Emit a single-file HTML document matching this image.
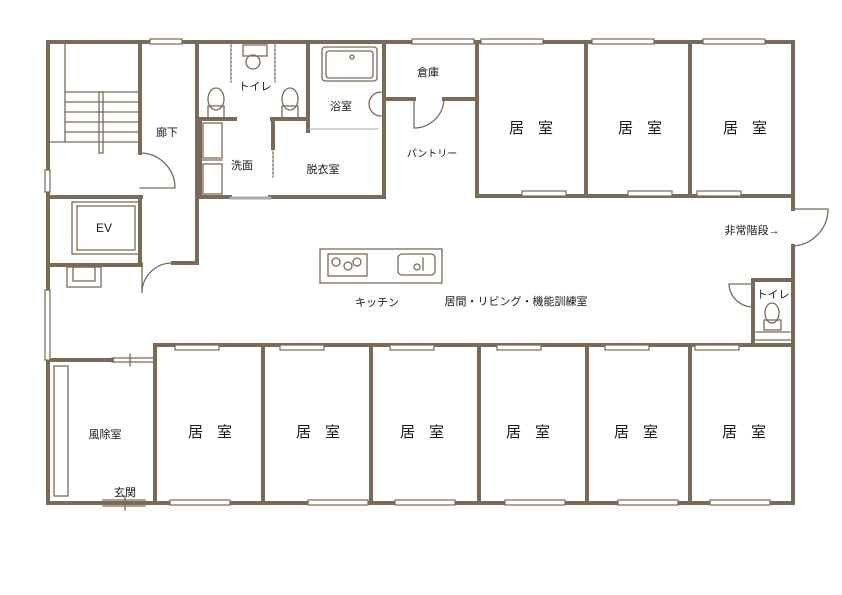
<!DOCTYPE html>
<html><head><meta charset="utf-8"><style>
html,body{margin:0;padding:0;background:#fff;}
svg{display:block;}
</style></head><body>
<svg width="842" height="595" viewBox="0 0 842 595" xmlns="http://www.w3.org/2000/svg">
<g stroke="#7a6a58" fill="none" stroke-linecap="square">
<g stroke-width="4">
<path d="M48 42 H793 V209 M793 246 V503 H48 V42"/>
<path d="M477 42 V196 H793"/>
<path d="M586 42 V196"/>
<path d="M690 42 V196"/>
<path d="M384 42 V197"/>
<path d="M384 99 H414 M444 99 H477"/>
<path d="M308 42 V131"/>
<path d="M197 42 V263"/>
<path d="M200 119 H235 M272 119 H308"/>
<path d="M273 119 V148"/>
<path d="M200 197 H230 M270 197 H384"/>
<path d="M200 119 V197"/>
<path d="M140 42 V153"/>
<path d="M48 197 H141"/>
<path d="M48 265 H141"/>
<path d="M140 197 V265"/>
<path d="M173 263 H197"/>
<path d="M155 345 H793"/>
<path d="M155 345 V503"/>
<path d="M263 345 V503"/>
<path d="M371 345 V503"/>
<path d="M479 345 V503"/>
<path d="M587 345 V503"/>
<path d="M690 345 V503"/>
<path d="M48 360 H112"/>
<path d="M753 280 H793 M753 280 V345"/>
</g>
<g stroke-width="1.3">
<path d="M48 142 H140"/>
<path d="M65 42 V142"/>
<path d="M65 92 H138 M65 102 H138 M65 112 H138 M65 122 H138 M65 132 H138"/>
<rect x="99" y="92" width="4" height="61"/>
<rect x="72" y="202" width="67" height="52"/>
<rect x="77" y="206" width="58" height="44"/>
<path d="M140 153 A35 35 0 0 1 175 188 H140"/>
<path d="M142 263 V293 A30 30 0 0 1 173 263"/>
<rect x="67" y="267" width="34" height="20"/><rect x="73" y="267" width="22" height="14"/>
<path d="M414 99 V128 A30 30 0 0 0 444 99"/>
<rect x="322" y="47" width="55" height="34" rx="3"/>
<rect x="326" y="51" width="47" height="27" rx="3"/>
<circle cx="352" cy="57" r="2"/>
<path d="M381 92 A12 12 0 0 0 381 116"/>
<path d="M310 129 H378" stroke="#bbb"/>
<path d="M231 198 H270" stroke="#aaa" stroke-width="3"/>
<rect x="203" y="123" width="19" height="35"/><rect x="203" y="164" width="19" height="30"/>
<path d="M200 160 H222"/>
<ellipse cx="216" cy="99" rx="8" ry="11"/><rect x="208" y="106" width="16" height="12"/>
<ellipse cx="290" cy="99" rx="8" ry="11"/><rect x="282" y="106" width="16" height="12"/>
<rect x="243" y="45" width="24" height="11"/><ellipse cx="253" cy="62" rx="7" ry="7"/>
<path d="M231 45 V82 M275 45 V82 M273 148 V177" stroke-dasharray="2 2"/>
<rect x="320" y="249" width="122" height="34"/>
<rect x="328" y="254" width="39" height="22"/>
<circle cx="336" cy="262" r="4"/><circle cx="348" cy="266" r="4"/><circle cx="357" cy="262" r="4"/>
<rect x="398" y="254" width="37" height="21" rx="4"/><circle cx="417" cy="267" r="3"/><path d="M423 258 V270"/>
<path d="M793 209 H828 A37 37 0 0 1 793 246"/>
<path d="M753 284 H729 A24 24 0 0 0 753 307"/>
<ellipse cx="772" cy="313" rx="7" ry="10"/><rect x="764" y="320" width="17" height="10"/>
<path d="M756 332 H790 M756 340 H790"/>
<rect x="54" y="366" width="14" height="130"/>
<path d="M112 358 H155 M112 362 H155 M130 354 V366"/>
<path d="M103 500 H145 M103 506 H145 M125 496 V510"/>
</g>
<g fill="#fff" stroke="#7a6a58" stroke-width="1.2">
<rect x="150" y="39" width="32" height="5"/>
<rect x="412" y="39" width="62" height="5"/>
<rect x="481" y="39" width="62" height="5"/>
<rect x="592" y="39" width="62" height="5"/>
<rect x="703" y="39" width="62" height="5"/>
<rect x="522" y="191" width="44" height="5"/>
<rect x="628" y="191" width="44" height="5"/>
<rect x="697" y="191" width="44" height="5"/>
<rect x="45" y="170" width="5" height="22"/>
<rect x="45" y="290" width="5" height="70"/>
<rect x="175" y="345" width="44" height="5"/>
<rect x="280" y="345" width="44" height="5"/>
<rect x="390" y="345" width="44" height="5"/>
<rect x="497" y="345" width="44" height="5"/>
<rect x="605" y="345" width="44" height="5"/>
<rect x="695" y="345" width="44" height="5"/>
<rect x="170" y="500" width="60" height="5"/>
<rect x="308" y="500" width="60" height="5"/>
<rect x="395" y="500" width="60" height="5"/>
<rect x="505" y="500" width="60" height="5"/>
<rect x="618" y="500" width="60" height="5"/>
<rect x="710" y="500" width="60" height="5"/>
</g>
</g>
<g font-family="Liberation Sans, Noto Sans CJK JP, sans-serif" fill="#1a1a1a" stroke="none" font-weight="normal">
<g font-size="11" text-anchor="middle">
<text x="428" y="76">倉庫</text>
<text x="255" y="90">トイレ</text>
<text x="341" y="110">浴室</text>
<text x="167" y="136">廊下</text>
<text x="432" y="157" font-size="10">パントリー</text>
<text x="242" y="169">洗面</text>
<text x="323" y="173">脱衣室</text>
<text x="104" y="232" font-size="12">EV</text>
<text x="752" y="234">非常階段→</text>
<text x="377" y="306">キッチン</text>
<text x="516" y="305">居間・リビング・機能訓練室</text>
<text x="773" y="298">トイレ</text>
<text x="105" y="438">風除室</text>
<text x="125" y="496">玄関</text>
</g>
<g font-size="15" text-anchor="middle" letter-spacing="14">
<text x="538" y="133">居室</text><text x="647" y="133">居室</text><text x="752" y="133">居室</text>
<text x="217" y="437">居室</text><text x="325" y="437">居室</text><text x="429" y="437">居室</text>
<text x="535" y="437">居室</text><text x="643" y="437">居室</text><text x="751" y="437">居室</text>
</g>
</g>
</svg>
</body></html>
